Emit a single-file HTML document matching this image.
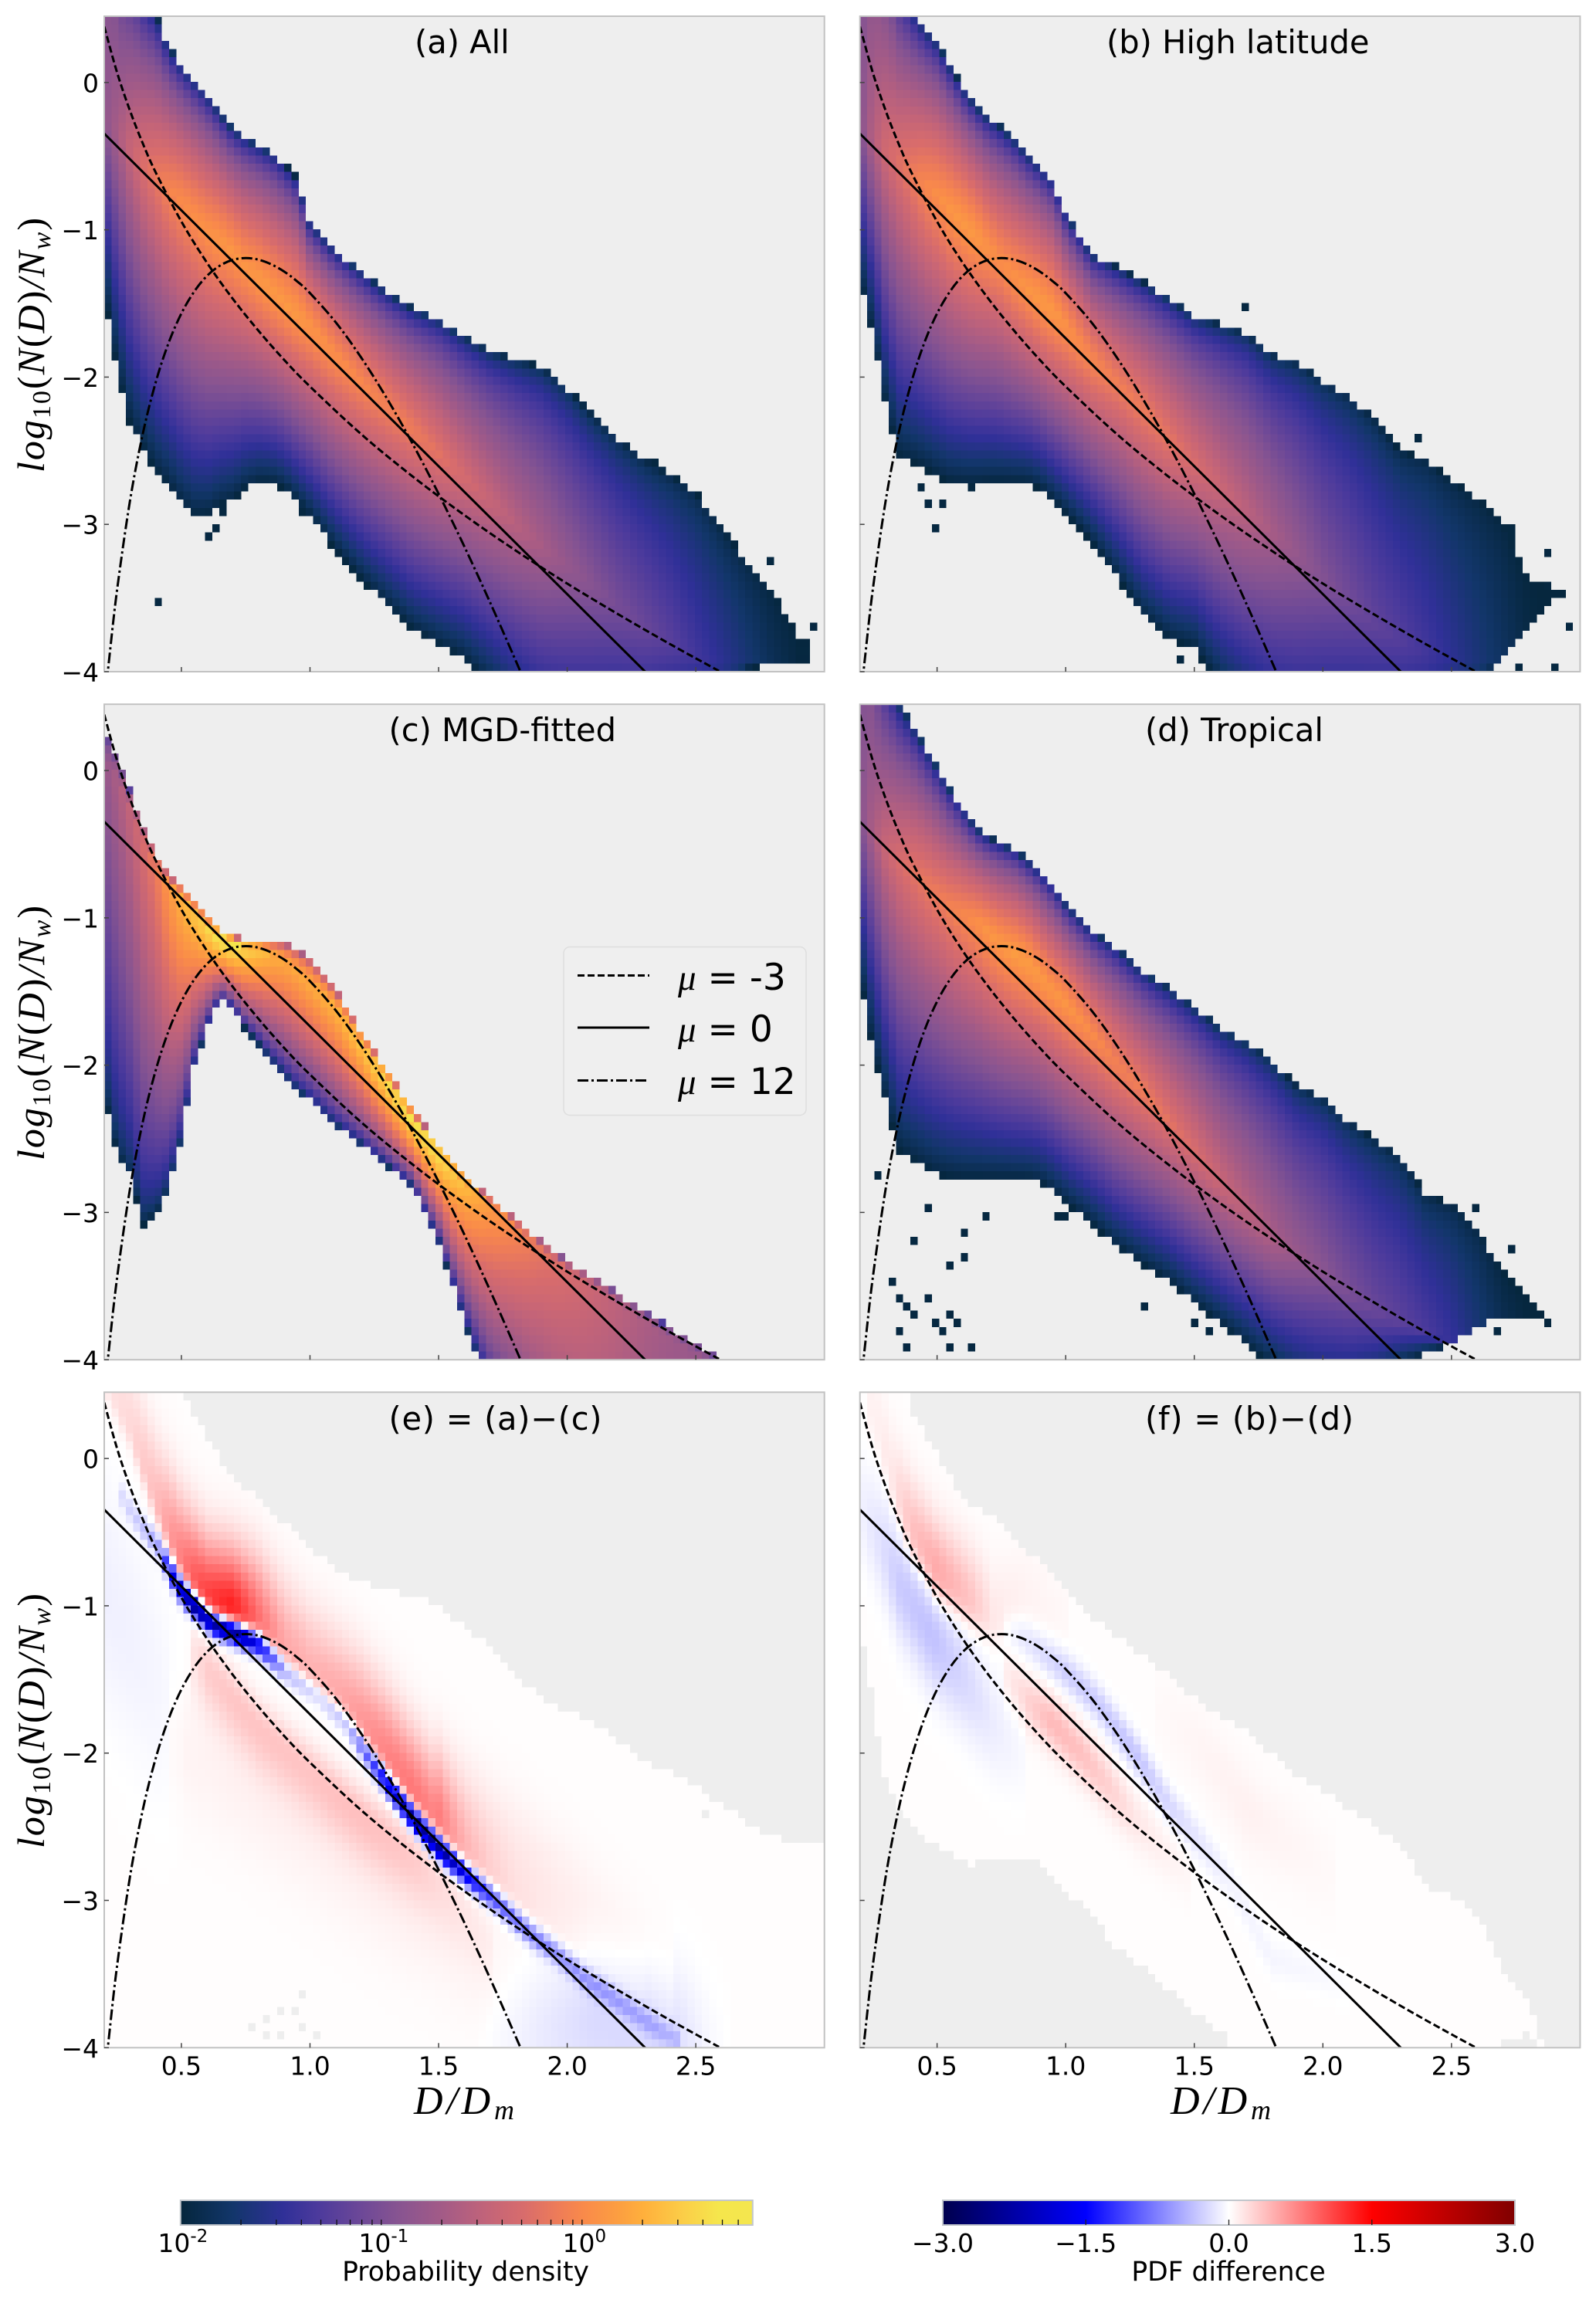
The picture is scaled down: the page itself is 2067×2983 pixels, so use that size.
<!DOCTYPE html>
<html lang="en">
<head>
<meta charset="utf-8">
<title>Normalized drop size distributions</title>
<style>
html,body{margin:0;padding:0;background:#fff;}
svg{display:block;}
text{font-family:"DejaVu Sans","Liberation Sans",sans-serif;fill:#000;}
.math{font-family:"Liberation Serif",serif;font-style:italic;}
.roman{font-style:normal;}
</style>
</head>
<body>
<svg id="figure" xmlns="http://www.w3.org/2000/svg" width="2067" height="2983" viewBox="0 0 2067 2983">
<rect width="2067" height="2983" fill="#fff"/>
<defs id="defs"></defs>
<g id="layer-panels"></g>

<text x="537" y="69" font-size="41.6">(a) All</text>
<text x="1433" y="69" font-size="41.6">(b) High latitude</text>
<text x="503.5" y="960" font-size="41.6">(c) MGD-fitted</text>
<text x="1483" y="960" font-size="41.6">(d) Tropical</text>
<text x="503.5" y="1852" font-size="41.6" textLength="276">(e) = (a)−(c)</text>
<text x="1483" y="1852" font-size="41.6" textLength="270">(f) = (b)−(d)</text>

<text class="math" transform="translate(57,612) rotate(-90)" font-size="50" textLength="330">log<tspan class="roman" font-size="34" dy="8">10</tspan><tspan class="roman" dy="-8">(</tspan>N<tspan class="roman">(</tspan>D<tspan class="roman">)</tspan>/N<tspan font-size="34" dy="8">w</tspan><tspan class="roman" dy="-8">)</tspan></text>
<text class="math" transform="translate(57,1503) rotate(-90)" font-size="50" textLength="330">log<tspan class="roman" font-size="34" dy="8">10</tspan><tspan class="roman" dy="-8">(</tspan>N<tspan class="roman">(</tspan>D<tspan class="roman">)</tspan>/N<tspan font-size="34" dy="8">w</tspan><tspan class="roman" dy="-8">)</tspan></text>
<text class="math" transform="translate(57,2394) rotate(-90)" font-size="50" textLength="330">log<tspan class="roman" font-size="34" dy="8">10</tspan><tspan class="roman" dy="-8">(</tspan>N<tspan class="roman">(</tspan>D<tspan class="roman">)</tspan>/N<tspan font-size="34" dy="8">w</tspan><tspan class="roman" dy="-8">)</tspan></text>

<text class="math" x="536" y="2738" font-size="52" textLength="130">D/D<tspan font-size="36" dy="7">m</tspan></text>
<text class="math" x="1516" y="2738" font-size="52" textLength="130">D/D<tspan font-size="36" dy="7">m</tspan></text>

<g>
  <rect x="730" y="1226.5" width="314" height="218" rx="8" fill="#efefef" stroke="#dedede" stroke-width="1.5"/>
  <line x1="748" x2="841" y1="1263.5" y2="1263.5" stroke="#000" stroke-width="3" stroke-dasharray="9 4"/>
  <line x1="748" x2="841" y1="1331" y2="1331" stroke="#000" stroke-width="3"/>
  <line x1="748" x2="841" y1="1399.5" y2="1399.5" stroke="#000" stroke-width="3" stroke-dasharray="14 4 3 4"/>
  <text x="878" y="1282" font-size="47"><tspan class="math">μ</tspan> = -3</text>
  <text x="878" y="1349" font-size="47"><tspan class="math">μ</tspan> = 0</text>
  <text x="878" y="1417" font-size="47"><tspan class="math">μ</tspan> = 12</text>
</g>

<g id="layer-cbars"></g>
<text x="603" y="2954" font-size="34.5" text-anchor="middle">Probability density</text>
<text x="1591" y="2954" font-size="34.5" text-anchor="middle">PDF difference</text>
</svg>

<script>
/* ---------- shared column knots (D/Dm) ---------- */
const knotD=[.2,.25,.3,.35,.4,.45,.5,.55,.6,.65,.7,.75,.8,.85,.9,.95,1,1.1,1.2,1.3,1.4,1.5,1.6,1.7,1.8,1.9,2,2.1,2.2,2.3,2.4,2.5,2.6,2.7,2.8,2.9];

/* ---------- panel (a) All ---------- */
const aTop=[6,1.32,.87,.61,.47,.25,.12,.02,-.08,-.2,-.31,-.37,-.42,-.47,-.55,-.65,-.95,-1.14,-1.28,-1.42,-1.53,-1.6,-1.72,-1.82,-1.88,-1.93,-2.07,-2.26,-2.42,-2.56,-2.66,-2.78,-3.02,-3.25,-3.45,-3.75];
const aBottom=[-1.43,-1.97,-2.32,-2.5,-2.65,-2.75,-2.87,-2.95,-2.95,-2.88,-2.84,-2.76,-2.72,-2.72,-2.76,-2.85,-2.95,-3.18,-3.38,-3.55,-3.72,-3.82,-3.92,-4.1,-4.3,-4.5,-4.6,-4.6,-4.6,-4.6,-4.5,-4.4,-4.2,-3.98,-3.96,-3.95];
const aRidge=[-.25,-.35,-.45,-.55,-.63,-.72,-.8,-.9,-1,-1.07,-1.15,-1.25,-1.33,-1.42,-1.5,-1.58,-1.66,-1.86,-2.04,-2.2,-2.36,-2.52,-2.68,-2.84,-3,-3.15,-3.28,-3.42,-3.56,-3.7,-3.8,-3.9,-3.95,-3.95,-3.95,-3.9];
const aPeak=[.4,.47,.55,.61,.65,.69,.71,.72,.73,.74,.74,.74,.75,.75,.75,.75,.74,.72,.7,.68,.66,.63,.59,.55,.51,.47,.42,.38,.34,.31,.27,.22,.17,.11,.05,.01];
const aStrayD=[.407,.605,.63,.66,.465,.97,2.96,2.34,2.79,2.77,2.65];
const aStrayY=[-3.55,-3.1,-3,-2.94,-2.77,-2.94,-3.71,-2.6,-3.27,-3.39,-3.6];

/* ---------- panel (b) High latitude ---------- */
const bTop=[6,2.2,1.17,.7,.52,.38,.28,.12,-.03,-.15,-.24,-.3,-.38,-.48,-.57,-.66,-.88,-1.16,-1.25,-1.35,-1.46,-1.58,-1.64,-1.7,-1.84,-1.9,-2.02,-2.12,-2.28,-2.5,-2.56,-2.7,-2.82,-2.98,-3.35,-3.45];
const bBottom=[-1.35,-1.72,-2.2,-2.54,-2.58,-2.62,-2.68,-2.72,-2.73,-2.73,-2.72,-2.72,-2.72,-2.72,-2.76,-2.84,-2.93,-3.12,-3.36,-3.62,-3.78,-3.84,-4.1,-4.3,-4.5,-4.6,-4.6,-4.6,-4.6,-4.6,-4.6,-4.4,-4.1,-3.9,-3.7,-3.5];
const bRidge=[-.3,-.38,-.46,-.54,-.62,-.69,-.76,-.86,-.95,-1.04,-1.13,-1.22,-1.32,-1.4,-1.48,-1.56,-1.66,-1.88,-2.04,-2.22,-2.42,-2.58,-2.74,-2.9,-3.05,-3.2,-3.37,-3.52,-3.68,-3.8,-3.88,-3.92,-3.95,-3.95,-3.9,-3.85];
const bPeak=[.38,.5,.58,.62,.66,.7,.72,.74,.75,.75,.73,.72,.73,.74,.75,.75,.73,.7,.67,.66,.64,.6,.56,.52,.47,.42,.37,.33,.29,.26,.22,.17,.12,.07,.02,0];
const bStrayD=[1.7,.436,.47,.52,.495,.635,2.38,2.86,2.86,2.94,2.97,2.91,2.75,1.45,2.74,2.74];
const bStrayY=[-1.51,-2.77,-2.88,-2.88,-3,-2.77,-2.44,-3.21,-3.43,-3.46,-3.71,-3.98,-3.98,-3.93,-3.02,-3.1];

/* ---------- panel (c) MGD-fitted ---------- */
const cTop=[.29,.09,-.14,-.36,-.55,-.71,-.78,-.88,-.99,-1.08,-1.12,-1.15,-1.15,-1.15,-1.16,-1.21,-1.27,-1.48,-1.77,-2.03,-2.31,-2.53,-2.74,-2.9,-3.04,-3.19,-3.33,-3.43,-3.55,-3.67,-3.78,-3.88,-3.99,-4.2,-4.5,-4.8];
const cBottom=[-2.2,-2.6,-2.75,-3.07,-3.02,-2.85,-2.52,-2.02,-1.75,-1.55,-1.62,-1.76,-1.86,-1.98,-2.08,-2.18,-2.25,-2.42,-2.55,-2.69,-2.83,-3.2,-3.75,-4.23,-4.53,-4.99,-5.65,-6.8,-8,-8,-8,-8,-8,-8,-8,-8];
const cRidge=[.05,-.05,-.25,-.47,-.63,-.77,-.87,-.98,-1.07,-1.14,-1.18,-1.21,-1.22,-1.26,-1.3,-1.37,-1.45,-1.62,-1.87,-2.12,-2.38,-2.6,-2.8,-2.95,-3.1,-3.25,-3.39,-3.5,-3.62,-3.73,-3.85,-3.95,-4.05,-4.2,-4.5,-4.8];
const cPeak=[.42,.48,.54,.6,.66,.75,.82,.86,.9,.96,.96,.9,.86,.81,.79,.79,.8,.82,.86,.91,.94,.93,.85,.76,.7,.64,.6,.56,.52,.48,.45,.43,.4,.4,.4,.4];
const cStrayD=[.35];
const cStrayY=[-3.06];

/* ---------- panel (d) Tropical ---------- */
const dTop=[6,1.32,.71,.47,.33,.18,.03,-.12,-.25,-.38,-.45,-.49,-.53,-.6,-.68,-.77,-.9,-1.08,-1.2,-1.36,-1.47,-1.6,-1.74,-1.83,-1.96,-2.14,-2.22,-2.38,-2.5,-2.62,-2.88,-2.94,-3.1,-3.4,-3.6,-3.8];
const dBottom=[-1.41,-1.89,-2.25,-2.58,-2.65,-2.7,-2.75,-2.77,-2.78,-2.78,-2.78,-2.78,-2.78,-2.78,-2.8,-2.86,-2.94,-3.08,-3.24,-3.36,-3.47,-3.62,-3.76,-3.9,-4.05,-4.2,-4.3,-4.3,-4.2,-4.05,-3.96,-3.9,-3.76,-3.72,-3.7,-3.8];
const dRidge=[-.3,-.42,-.54,-.62,-.68,-.76,-.84,-.92,-.98,-1.02,-1.1,-1.18,-1.24,-1.3,-1.4,-1.5,-1.58,-1.78,-2,-2.18,-2.38,-2.58,-2.8,-3,-3.19,-3.3,-3.4,-3.55,-3.67,-3.75,-3.82,-3.88,-3.9,-3.9,-3.85,-3.85];
const dPeak=[.38,.48,.56,.6,.63,.65,.66,.68,.7,.72,.74,.75,.76,.76,.75,.74,.74,.71,.68,.66,.63,.6,.56,.52,.48,.43,.39,.35,.31,.28,.24,.19,.12,.05,.01,0];
const dStrayD=[1.79,2.29,2.58,2.74,2.74,2.8,2.68,.27,.465,.69,.605,.41,.605,.55,.33,.355,.46,.385,.41,.49,.55,.58,.355,.52,.385,.55,.635,1.31,1.51,1.56,.97,1];
const dStrayY=[-1.95,-2.61,-2.99,-3.23,-3.46,-3.68,-3.82,-2.77,-2.99,-3.05,-3.13,-3.21,-3.33,-3.38,-3.46,-3.6,-3.6,-3.66,-3.71,-3.76,-3.71,-3.76,-3.82,-3.82,-3.93,-3.93,-3.93,-3.66,-3.76,-3.82,-3,-3.05];

/* ---------- panel (e) difference (a)-(c) ---------- */
const eTop=[2,2,2,2,2,2,.5,.3,.15,0,-.1,-.2,-.29,-.38,-.44,-.52,-.6,-.75,-.84,-.9,-.93,-1,-1.15,-1.27,-1.5,-1.62,-1.72,-1.79,-1.92,-2.05,-2.13,-2.22,-2.35,-2.47,-2.57,-2.63];
const eBottom=[-5,-5,-5,-5,-5,-5,-5,-5,-5,-5,-5,-5,-5,-5,-5,-5,-5,-5,-5,-5,-5,-5,-5,-5,-5,-5,-5,-5,-5,-5,-5,-5,-5,-5,-5,-5];
const eHoleD=[.89,.84,.83,.89,.94,.97,.98,1.02,.78,2.53,2.74];
const eHoleY=[-3.73,-3.8,-3.9,-3.9,-3.76,-3.66,-3.86,-3.93,-3.86,-2.44,-2.44];

const eRedUpperD=[.2,.3,.4,.5,.6,.7,.8,.9,1,1.1,1.2,1.3,1.4,1.5,1.6,1.7,1.8,1.9,2,2.1,2.3];
const eRedUpperY=[.55,.2,-.3,-.7,-.98,-1.06,-1.12,-1.28,-1.46,-1.62,-1.8,-2.03,-2.28,-2.48,-2.72,-2.9,-3.08,-3.2,-3.36,-3.5,-3.8];
const eRedUpperV=[.14,.22,.38,.75,1.15,1.35,.85,.5,.45,.5,.6,.72,.8,.7,.42,.25,.15,.1,.08,.05,.03];

const eBlueRidgeD=[.25,.3,.35,.41,.48,.55,.62,.72,.8,.91,1.03,1.14,1.24,1.32,1.41,1.51,1.61,1.72,1.86,1.96,2.07,2.21,2.34,2.44];
const eBlueRidgeY=[-.2,-.35,-.47,-.6,-.85,-1,-1.12,-1.19,-1.26,-1.45,-1.6,-1.79,-2.06,-2.26,-2.46,-2.66,-2.83,-3,-3.23,-3.36,-3.53,-3.7,-3.86,-3.96];
const eBlueRidgeV=[-.15,-.25,-.35,-.6,-2,-2.6,-2.7,-2.8,-1.8,-.5,-.45,-.6,-1.2,-2,-2.6,-2.6,-1.9,-1.2,-.9,-.7,-.55,-.45,-.35,-.25];

const eRedLowerD=[.55,.6,.7,.8,.9,1,1.1,1.2,1.3,1.4,1.5,1.6,1.7];
const eRedLowerY=[-1.32,-1.42,-1.62,-1.82,-1.97,-2.12,-2.27,-2.42,-2.56,-2.7,-2.86,-3.05,-3.3];
const eRedLowerV=[.15,.28,.32,.32,.32,.32,.34,.34,.32,.28,.18,.1,.05];

const eRedTailD=[.45,.7,1,1.3,1.6,1.9,2.2,2.4];
const eRedTailY=[-1.9,-2.2,-2.6,-3,-3.35,-3.55,-3.7,-3.8];
const eRedTailV=[.05,.06,.06,.06,.05,.03,.02,.01];

const eRedRightD=[1.5,1.8,2.1,2.4];
const eRedRightY=[-2.2,-2.6,-3.05,-3.5];
const eRedRightV=[.1,.08,.06,.04];

const eBlueLeftD=[.2,.3,.4,.5];
const eBlueLeftY=[-.9,-1.2,-1.5,-1.7];
const eBlueLeftV=[-.1,-.09,-.07,-.02];

const eBlueTailD=[1.65,1.75,1.9,2.1,2.3,2.45,2.55,2.65];
const eBlueTailY=[-3.95,-3.9,-3.85,-3.8,-3.9,-4,-4.1,-4.2];
const eBlueTailV=[0,-.06,-.15,-.25,-.25,-.18,-.06,0];

/* ---------- panel (f) difference (b)-(d) ---------- */
const fTop=[3,2,1.5,.7,.33,.18,.03,-.12,-.27,-.34,-.38,-.46,-.54,-.64,-.7,-.79,-.9,-1.08,-1.2,-1.34,-1.47,-1.62,-1.76,-1.85,-2,-2.16,-2.26,-2.38,-2.5,-2.6,-2.9,-2.97,-3.1,-3.5,-3.7,-4.2];
const fBottom=[-1.15,-1.65,-2.2,-2.35,-2.48,-2.6,-2.64,-2.68,-2.74,-2.76,-2.69,-2.7,-2.7,-2.71,-2.74,-2.83,-2.93,-3.1,-3.33,-3.45,-3.6,-3.76,-3.88,-4.1,-5,-5,-5,-5,-5,-5,-5,-5,-5,-3.95,-3.9,-4.2];

const fRedUpperD=[.22,.27,.33,.4,.5,.63,.72,.85,1];
const fRedUpperY=[.4,.2,-.2,-.52,-.8,-.98,-1.1,-.95,-1.1];
const fRedUpperV=[.06,.08,.15,.4,.55,.35,.12,.06,.03];

const fBlueLeftD=[.21,.29,.35,.48,.61,.72,.85];
const fBlueLeftY=[-.35,-.6,-.85,-1.2,-1.5,-1.8,-2];
const fBlueLeftV=[-.1,-.2,-.32,-.38,-.24,-.12,-.04];

const fBlueRidgeD=[.75,.82,1,1.12,1.27,1.4,1.53,1.65,1.8,1.99,2.1];
const fBlueRidgeY=[-1.15,-1.2,-1.45,-1.65,-2,-2.35,-2.62,-2.9,-3.4,-3.5,-3.6];
const fBlueRidgeV=[-.05,-.13,-.3,-.32,-.36,-.25,-.15,-.08,-.07,-.05,-.02];

const fRedLowerD=[.75,.85,.95,1.06,1.18,1.27,1.38,1.5];
const fRedLowerY=[-1.45,-1.65,-1.8,-2,-2.25,-2.45,-2.65,-2.85];
const fRedLowerV=[.08,.25,.4,.36,.25,.13,.07,.03];

const fRedFaintD=[1.35,1.54,1.71,1.9,2.05];
const fRedFaintY=[-1.7,-2,-2.4,-2.65,-2.85];
const fRedFaintV=[.02,.05,.07,.04,.02];

/* ---------- reference curves ---------- */
const muMinus3D=[.2,.25,.3,.35,.4,.5,.6,.7,.8,.9,1,1.2,1.4,1.6,1.8,2,2.2,2.4,2.59];
const muMinus3Y=[.38,.067,-.191,-.414,-.61,-.944,-1.225,-1.469,-1.686,-1.884,-2.064,-2.389,-2.676,-2.937,-3.178,-3.402,-3.612,-3.813,-3.995];
const mu0D=[.2,2.303];
const mu0Y=[-.347,-4];
const mu12D=[.21,.22,.25,.3,.35,.4,.45,.5,.55,.6,.65,.7,.75,.8,.85,.9,.95,1,1.1,1.2,1.3,1.4,1.5,1.6,1.7,1.8,1.82];
const mu12Y=[-4.073,-3.901,-3.443,-2.841,-2.384,-2.036,-1.769,-1.568,-1.419,-1.312,-1.243,-1.204,-1.192,-1.203,-1.235,-1.284,-1.35,-1.43,-1.628,-1.87,-2.148,-2.456,-2.792,-3.15,-3.529,-3.926,-4.007];

/* ---------- axis ticks ---------- */
const xTickValues=[.5,1,1.5,2,2.5];
const xTickLabels=['0.5','1.0','1.5','2.0','2.5'];
const yTickValues=[0,-1,-2,-3,-4];
const yTickLabels=['0','−1','−2','−3','−4'];

/* ---------- colorbar ticks ---------- */
const densityMajorTicks=[.01,.1,1];
const densityMajorExponents=['-2','-1','0'];
const densityMinorTicks=[.02,.03,.04,.05,.06,.07,.08,.09,.1,.2,.3,.4,.5,.6,.7,.8,.9,1,2,3,4,5,6];
const differenceTicks=[-3,-1.5,0,1.5,3];
const differenceTickLabels=['−3.0','−1.5','0.0','1.5','3.0'];

const SVGNS=document.getElementById('figure').namespaceURI;
function mk(tag,attrs){
  const el=document.createElementNS(SVGNS,tag);
  for(const k in attrs){el.setAttribute(k,attrs[k]);}
  return el;
}

/* colormaps */
const magmaStops=[[0,'#05263c'],[.09,'#12366a'],[.18,'#303098'],[.24,'#4c3a9c'],[.31,'#6a4798'],[.38,'#875491'],[.45,'#a05a88'],[.53,'#c0637a'],[.6,'#d86c6c'],[.66,'#ee7c58'],[.705,'#f98a4a'],[.77,'#fca040'],[.81,'#ffb03c'],[.88,'#fbce48'],[.94,'#f5e64c'],[1,'#f4e64e']];
const seismicStops=[[0,'#00004d'],[.25,'#0000ff'],[.5,'#ffffff'],[.75,'#ff0000'],[1,'#800000']];
function hexRgb(h){return [parseInt(h.slice(1,3),16),parseInt(h.slice(3,5),16),parseInt(h.slice(5,7),16)];}
function colorAt(stops,t){
  t=Math.max(0,Math.min(1,t));
  for(let i=1;i<stops.length;i++){
    if(t<=stops[i][0]){
      const a=stops[i-1],b=stops[i],f=(t-a[0])/(b[0]-a[0]);
      const ca=hexRgb(a[1]),cb=hexRgb(b[1]);
      return 'rgb('+Math.round(ca[0]+(cb[0]-ca[0])*f)+','+Math.round(ca[1]+(cb[1]-ca[1])*f)+','+Math.round(ca[2]+(cb[2]-ca[2])*f)+')';
    }
  }
  return stops[stops.length-1][1];
}

/* axes */
const PW=932.7,PH=849,XMIN=.2,XMAX=3,YMIN=-4,YMAX=.45;
const NX=100,NY=80;
function xOf(p,d){return p.left+(d-XMIN)/(XMAX-XMIN)*PW;}
function yOf(p,v){return p.top+(YMAX-v)/(YMAX-YMIN)*PH;}
function interp(xs,ys,x,clamp){
  if(x<=xs[0]){return (clamp||x===xs[0])?ys[0]:null;}
  const n=xs.length;
  if(x>=xs[n-1]){return (clamp||x===xs[n-1])?ys[n-1]:null;}
  for(let i=1;i<n;i++){
    if(x<=xs[i]){return ys[i-1]+(ys[i]-ys[i-1])*(x-xs[i-1])/(xs[i]-xs[i-1]);}
  }
  return null;
}

const panels=[
 {id:'a',left:135,top:21,kind:'density',qUp:.5,qDn:.85,t:aTop,b:aBottom,r:aRidge,p:aPeak,sd:aStrayD,sy:aStrayY,xl:false,yl:true},
 {id:'b',left:1113.7,top:21,kind:'density',qUp:.5,qDn:.85,t:bTop,b:bBottom,r:bRidge,p:bPeak,sd:bStrayD,sy:bStrayY,xl:false,yl:false},
 {id:'c',left:135,top:912.2,kind:'density',qUp:.2,qDn:.55,t:cTop,b:cBottom,r:cRidge,p:cPeak,sd:cStrayD,sy:cStrayY,xl:false,yl:true},
 {id:'d',left:1113.7,top:912.2,kind:'density',qUp:.5,qDn:.85,t:dTop,b:dBottom,r:dRidge,p:dPeak,sd:dStrayD,sy:dStrayY,xl:false,yl:false},
 {id:'e',left:135,top:1803.3,kind:'diff',t:eTop,b:eBottom,hd:eHoleD,hy:eHoleY,xl:true,yl:true,lobes:[
   {d:eRedUpperD,y:eRedUpperY,v:eRedUpperV,up:.3,dn:.09},
   {d:eBlueRidgeD,y:eBlueRidgeY,v:eBlueRidgeV,up:.055,dn:.055},
   {d:eRedLowerD,y:eRedLowerY,v:eRedLowerV,up:.13,dn:.22},
   {d:eRedTailD,y:eRedTailY,v:eRedTailV,up:.3,dn:.3},
   {d:eRedRightD,y:eRedRightY,v:eRedRightV,up:.25,dn:.25},
   {d:eBlueLeftD,y:eBlueLeftY,v:eBlueLeftV,up:.55,dn:.55},
   {d:eBlueTailD,y:eBlueTailY,v:eBlueTailV,up:.35,dn:.35}]},
 {id:'f',left:1113.7,top:1803.3,kind:'diff',t:fTop,b:fBottom,hd:[],hy:[],xl:true,yl:false,lobes:[
   {d:fRedUpperD,y:fRedUpperY,v:fRedUpperV,up:.25,dn:.12},
   {d:fBlueLeftD,y:fBlueLeftY,v:fBlueLeftV,up:.25,dn:.25},
   {d:fBlueRidgeD,y:fBlueRidgeY,v:fBlueRidgeV,up:.09,dn:.09},
   {d:fRedLowerD,y:fRedLowerY,v:fRedLowerV,up:.13,dn:.13},
   {d:fRedFaintD,y:fRedFaintY,v:fRedFaintV,up:.2,dn:.2}]}
];

function binI(d){return Math.floor((d-XMIN)/((XMAX-XMIN)/NX));}
function binJ(v){return Math.floor((v-YMIN)/((YMAX-YMIN)/NY));}

function addCell(group,p,i,j,color){
  const dx=(XMAX-XMIN)/NX,dy=(YMAX-YMIN)/NY;
  const d0=XMIN+i*dx,v1=YMIN+(j+1)*dy;
  const x=xOf(p,d0),y=yOf(p,v1);
  const cell=mk('rect',{x:x.toFixed(2),y:y.toFixed(2),width:(PW/NX+.05).toFixed(2),height:(PH/NY+.05).toFixed(2),fill:color});
  
  
  group.appendChild(cell);
}

function drawDensity(group,p){
  const dx=(XMAX-XMIN)/NX,dy=(YMAX-YMIN)/NY;
  const seen={};
  for(let i=0;i<NX;i++){
    const d=XMIN+(i+.5)*dx;
    const top=interp(knotD,p.t,d,true),bot=interp(knotD,p.b,d,true);
    const rid=interp(knotD,p.r,d,true),pk=interp(knotD,p.p,d,true);
    if(d>2.95||top<=bot){continue;}
    for(let j=0;j<NY;j++){
      const v=YMIN+(j+.5)*dy;
      if(v>top||v<bot){continue;}
      const above=v>=rid;
      let u=above?(v-rid)/Math.max(top-rid,.01):(rid-v)/Math.max(rid-bot,.01);
      u=Math.min(1,u);
      const t=Math.max(.004,pk*Math.pow(1-u,above?p.qUp:p.qDn));
      addCell(group,p,i,j,colorAt(magmaStops,t));
      seen[i+'_'+j]=1;
    }
  }
  for(let k=0;k<p.sd.length;k++){
    const i=binI(p.sd[k]),j=binJ(p.sy[k]);
    if(!seen[i+'_'+j]){addCell(group,p,i,j,colorAt(magmaStops,.01));}
  }
}

function drawDiff(group,p){
  const dx=(XMAX-XMIN)/NX,dy=(YMAX-YMIN)/NY;
  const holes={};
  for(let k=0;k<p.hd.length;k++){holes[binI(p.hd[k])+'_'+binJ(p.hy[k])]=1;}
  for(let i=0;i<NX;i++){
    const d=XMIN+(i+.5)*dx;
    const top=interp(knotD,p.t,d,true),bot=interp(knotD,p.b,d,true);
    if(top<=bot){continue;}
    const centers=p.lobes.map(function(l){return [interp(l.d,l.y,d,false),interp(l.d,l.v,d,false)];});
    for(let j=0;j<NY;j++){
      const v=YMIN+(j+.5)*dy;
      if(v>top||v<bot||holes[i+'_'+j]){continue;}
      let val=.012;
      for(let k=0;k<p.lobes.length;k++){
        if(centers[k][0]===null){continue;}
        const s=v>=centers[k][0]?p.lobes[k].up:p.lobes[k].dn;
        const z=(v-centers[k][0])/s;
        val+=centers[k][1]*Math.exp(-.5*z*z);
      }
      addCell(group,p,i,j,colorAt(seismicStops,.5+val/6));
    }
  }
}

function curvePath(p,ds,vs){
  const pts=ds.map(function(d,i){return [xOf(p,d),yOf(p,vs[i])];});
  let s='M'+pts[0][0].toFixed(2)+' '+pts[0][1].toFixed(2);
  for(let i=0;i<pts.length-1;i++){
    const a=pts[Math.max(0,i-1)],b=pts[i],c=pts[i+1],e=pts[Math.min(pts.length-1,i+2)];
    s+='C'+(b[0]+(c[0]-a[0])/6).toFixed(2)+' '+(b[1]+(c[1]-a[1])/6).toFixed(2)+' '+(c[0]-(e[0]-b[0])/6).toFixed(2)+' '+(c[1]-(e[1]-b[1])/6).toFixed(2)+' '+c[0].toFixed(2)+' '+c[1].toFixed(2);
  }
  return s;
}

const defs=document.getElementById('defs');
const layer=document.getElementById('layer-panels');

panels.forEach(function(p){
  const clip=mk('clipPath',{id:'clip-'+p.id});
  clip.appendChild(mk('rect',{x:p.left,y:p.top,width:PW,height:PH}));
  defs.appendChild(clip);

  const g=mk('g',{});
  
  

  const bg=mk('rect',{x:p.left,y:p.top,width:PW,height:PH,fill:'#eeeeee'});
  
  
  g.appendChild(bg);

  const heat=mk('g',{'clip-path':'url(#clip-'+p.id+')','shape-rendering':'crispEdges'});
  
  
  if(p.kind==='density'){drawDensity(heat,p);}else{drawDiff(heat,p);}
  g.appendChild(heat);

  const lines=mk('g',{'clip-path':'url(#clip-'+p.id+')',fill:'none',stroke:'#000','stroke-width':3});
  const l1=mk('path',{d:curvePath(p,muMinus3D,muMinus3Y),'stroke-dasharray':'9 4'});
  
  
  lines.appendChild(l1);
  const l2=mk('path',{d:curvePath(p,mu0D,mu0Y)});
  
  
  lines.appendChild(l2);
  const l3=mk('path',{d:curvePath(p,mu12D,mu12Y),'stroke-dasharray':'14 4 3 4'});
  
  
  lines.appendChild(l3);
  g.appendChild(lines);

  const border=mk('rect',{x:p.left,y:p.top,width:PW,height:PH,fill:'none',stroke:'#c2c2c2','stroke-width':2});
  
  
  g.appendChild(border);

  xTickValues.forEach(function(val,i){
    const x=xOf(p,val);
    const t=mk('line',{x1:x,x2:x,y1:p.top+PH-6,y2:p.top+PH,stroke:'#444','stroke-width':1.5});
    
    
    g.appendChild(t);
    if(p.xl){
      const lab=mk('text',{x:x,y:p.top+PH+35,'font-size':33,'text-anchor':'middle'});
      
      
      lab.textContent=xTickLabels[i];
      g.appendChild(lab);
    }
  });
  yTickValues.forEach(function(val,i){
    const y=yOf(p,val);
    const t=mk('line',{x1:p.left,x2:p.left+6,y1:y,y2:y,stroke:'#444','stroke-width':1.5});
    
    
    g.appendChild(t);
    if(p.yl){
      const lab=mk('text',{x:p.left-7,y:y+12.5,'font-size':33,'text-anchor':'end'});
      
      
      lab.textContent=yTickLabels[i];
      g.appendChild(lab);
    }
  });
  layer.appendChild(g);
});

/* colorbars */
const cb=document.getElementById('layer-cbars');
const CB1={x:233.8,w:741},CB2={x:1221,w:741},CBY=2850,CBH=32;
function densityX(v){return CB1.x+(Math.log10(v)+2)/2.85*CB1.w;}
function differenceX(v){return CB2.x+(v+3)/6*CB2.w;}
function gradient(id,stops){
  const gr=mk('linearGradient',{id:id,x1:0,x2:1,y1:0,y2:0});
  stops.forEach(function(s){gr.appendChild(mk('stop',{offset:s[0],'stop-color':s[1]}));});
  defs.appendChild(gr);
}
gradient('grad-density',magmaStops);
gradient('grad-difference',seismicStops);

const bar1=mk('rect',{x:CB1.x,y:CBY,width:CB1.w,height:CBH,fill:'url(#grad-density)',stroke:'#c2c6cc','stroke-width':2});


cb.appendChild(bar1);
const bar2=mk('rect',{x:CB2.x,y:CBY,width:CB2.w,height:CBH,fill:'url(#grad-difference)',stroke:'#c2c6cc','stroke-width':2});


cb.appendChild(bar2);

densityMinorTicks.forEach(function(v){
  const x=densityX(v);
  const t=mk('line',{x1:x,x2:x,y1:CBY+CBH-7,y2:CBY+CBH,stroke:'#111','stroke-width':1.3});
  
  
  cb.appendChild(t);
});
densityMajorTicks.forEach(function(v,i){
  const x=densityX(v)+3;
  const lab=mk('text',{x:x,y:2917,'font-size':33,'text-anchor':'middle'});
  
  
  lab.textContent='10';
  const sup=mk('tspan',{'font-size':23,dy:-13});
  sup.textContent=densityMajorExponents[i];
  lab.appendChild(sup);
  cb.appendChild(lab);
});
differenceTicks.forEach(function(v,i){
  const x=differenceX(v);
  if(i>0&&i<differenceTicks.length-1){
    const t=mk('line',{x1:x,x2:x,y1:CBY+CBH-7,y2:CBY+CBH,stroke:'#222','stroke-width':1.3});
    
    
    cb.appendChild(t);
  }
  const lab=mk('text',{x:x,y:2917,'font-size':33,'text-anchor':'middle'});
  
  
  lab.textContent=differenceTickLabels[i];
  cb.appendChild(lab);
});
</script>
</body>
</html>
